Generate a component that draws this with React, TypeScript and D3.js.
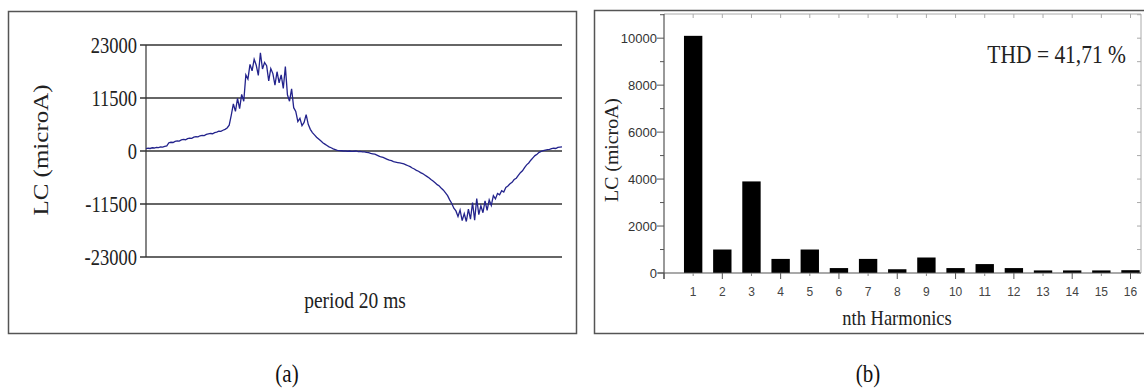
import React from "react";
import * as d3 from "d3";

// ---------- Panel (a): leakage current waveform over one 20 ms period ----------
const waveStepMs = 0.1;
const waveValues: number[] = [
  500, 600, 550, 700, 650, 800, 750, 900, 850, 1000,
  1100, 1800, 1900, 1850, 2100, 2200, 2150, 2400, 2500, 2450,
  2700, 2800, 2750, 3000, 3100, 3050, 3300, 3400, 3350, 3600,
  3700, 3800, 3750, 4000, 4100, 4300, 4250, 4500, 4700, 5000,
  5600, 7800, 10200, 8600, 11400, 9200, 12300, 10800, 16500, 15600,
  18800, 17400, 19900, 18600, 16400, 21300, 17800, 19200, 18500, 15200,
  17900, 16800, 14300, 17200, 14800, 16500, 13600, 18300, 12200, 10800,
  13500, 9400, 8600, 6400, 7100, 5500, 6200, 7900, 5800, 4700,
  4000, 3500, 3000, 2600, 2200, 1800, 1500, 1200, 900, 700,
  450, 300, 150, 100, 50, 0, 0, -50, 0, -100,
  -50, 0, -150, -100, -200, -200, -300, -350, -500, -600,
  -700, -900, -1100, -1300, -1400, -1600, -1800, -2000, -2100, -2300,
  -2400, -2500, -2600, -2700, -2800, -3000, -3200, -3400, -3700, -3900,
  -4200, -4400, -4700, -4900, -5200, -5500, -5800, -6200, -6500, -6900,
  -7300, -7600, -8100, -8500, -9100, -9700, -10600, -11400, -12400, -13000,
  -14200, -12800, -15100, -13600, -15300, -12600, -14800, -11200, -15000, -10300,
  -13800, -11900, -13400, -10800, -12900, -10600, -11800, -9700, -10400, -9200,
  -9500, -8600, -8900, -7900, -7600, -7100, -6800, -6200, -5900, -5300,
  -4700, -4300, -3600, -3000, -2600, -2000, -1500, -1000, -700, -300,
  -100, 100, 200, 300, 350, 500, 600, 550, 800, 850,
  900,
];
const waveTicks: number[] = [23000, 11500, 0, -11500, -23000];
const waveYTitle = "LC (microA)";
const waveXTitle = "period 20 ms";
const captionA = "(a)";

// ---------- Panel (b): harmonic spectrum ----------
const harmonics: number[] = [1, 2, 3, 4, 5, 6, 7, 8, 9, 10, 11, 12, 13, 14, 15, 16];
const harmonicValues: number[] = [
  10100, 1000, 3900, 600, 1000, 210, 600, 160, 660, 210, 380, 210, 110, 110, 110, 120,
];
const spectrumTicks: number[] = [0, 2000, 4000, 6000, 8000, 10000];
const spectrumYTitle = "LC (microA)";
const spectrumXTitle = "nth Harmonics";
const thdLabel = "THD = 41,71 %";
const captionB = "(b)";

const SERIF = "'Liberation Serif', 'Times New Roman', serif";
const SANS = "'Liberation Sans', Arial, sans-serif";

export default function App() {
  // ---- scales (a)
  const xA = d3.scaleLinear().domain([0, 20]).range([146, 562]);
  const yA = d3.scaleLinear().domain([-23000, 23000]).range([257, 45]);
  const line = d3
    .line<number>()
    .x((_, i) => xA(i * waveStepMs))
    .y((v) => yA(v));

  // ---- scales (b)
  const xB = d3.scaleLinear().domain([0, 16.36]).range([664, 1141]);
  const yB = d3.scaleLinear().domain([0, 11030]).range([273, 14]);
  const barW = xB(0.63) - xB(0);
  const minorY = d3.range(0, 11001, 1000);
  const topTicks = d3.range(1, 17);
  const bottomMajor = d3.range(0, 17, 2);
  const bottomMinor = d3.range(1, 17, 2);

  return (
    <svg
      width={1144}
      height={389}
      style={{ position: "absolute", left: 0, top: 0, background: "#fff" }}
    >
      <rect x={0} y={0} width={1144} height={389} fill="#fff" />

      {/* ================= Panel (a) ================= */}
      <rect x={8.5} y={11.5} width={568} height={322} fill="none" stroke="#555" strokeWidth={1.5} />
      {waveTicks.map((t) => (
        <g key={"ga" + t}>
          <line x1={140} x2={562} y1={yA(t)} y2={yA(t)} stroke="#333" strokeWidth={1.4} />
          <text
            transform={`translate(137,${yA(t)}) scale(1,1.2)`}
            textAnchor="end"
            dominantBaseline="central"
            fontFamily={SERIF}
            fontSize={18.5}
            fill="#222"
          >
            {t}
          </text>
        </g>
      ))}
      <line x1={146} x2={146} y1={yA(23000)} y2={yA(-23000)} stroke="#333" strokeWidth={1.2} />
      <path d={line(waveValues) || ""} fill="none" stroke="#23238c" strokeWidth={1.3} />
      <text
        transform={`translate(48,150) rotate(-90) scale(1.25,1)`}
        textAnchor="middle"
        fontFamily={SERIF}
        fontSize={20}
        fill="#222"
      >
        {waveYTitle}
      </text>
      <text
        transform={`translate(355,308) scale(1,1.2)`}
        textAnchor="middle"
        fontFamily={SERIF}
        fontSize={19.5}
        fill="#222"
      >
        {waveXTitle}
      </text>
      <text
        transform={`translate(287,382) scale(1,1.2)`}
        textAnchor="middle"
        fontFamily={SERIF}
        fontSize={21}
        fill="#111"
      >
        {captionA}
      </text>

      {/* ================= Panel (b) ================= */}
      <rect x={594.5} y={10.5} width={560} height={323} fill="none" stroke="#555" strokeWidth={1.5} />
      {/* frame top and right */}
      <line x1={664} x2={1141} y1={14} y2={14} stroke="#aaa" strokeWidth={1} />
      <line x1={1141} x2={1141} y1={14} y2={273} stroke="#aaa" strokeWidth={1} />
      {topTicks.map((h) => (
        <line key={"tt" + h} x1={xB(h)} x2={xB(h)} y1={14} y2={18} stroke="#aaa" />
      ))}
      {minorY.map((v) => (
        <line key={"rt" + v} x1={1141} x2={1137} y1={yB(v)} y2={yB(v)} stroke="#aaa" />
      ))}
      {/* bars */}
      {harmonics.map((h, i) => (
        <rect
          key={"b" + h}
          x={xB(h) - barW / 2}
          y={yB(harmonicValues[i])}
          width={barW}
          height={yB(0) - yB(harmonicValues[i])}
          fill="#000"
        />
      ))}
      {/* axes */}
      <line x1={664} x2={664} y1={14} y2={279} stroke="#555" strokeWidth={1.2} />
      <line x1={658} x2={1141} y1={273} y2={273} stroke="#555" strokeWidth={1.2} />
      {minorY.map((v) => (
        <line
          key={"lt" + v}
          x1={v % 2000 === 0 ? 657 : 660}
          x2={664}
          y1={yB(v)}
          y2={yB(v)}
          stroke="#555"
        />
      ))}
      {spectrumTicks.map((v) => (
        <text
          key={"yl" + v}
          x={657}
          y={yB(v)}
          textAnchor="end"
          dominantBaseline="central"
          fontFamily={SANS}
          fontSize={13}
          fill="#333"
        >
          {v}
        </text>
      ))}
      {bottomMajor.map((h) => (
        <line key={"bm" + h} x1={xB(h)} x2={xB(h)} y1={273} y2={279} stroke="#555" />
      ))}
      {bottomMinor.map((h) => (
        <line key={"bn" + h} x1={xB(h)} x2={xB(h)} y1={273} y2={276} stroke="#888" />
      ))}
      {harmonics.map((h) => (
        <text
          key={"xl" + h}
          x={xB(h)}
          y={296}
          textAnchor="middle"
          fontFamily={SANS}
          fontSize={12}
          fill="#444"
        >
          {h}
        </text>
      ))}
      <text
        transform={`translate(618,150) rotate(-90) scale(1.1,1)`}
        textAnchor="middle"
        fontFamily={SERIF}
        fontSize={18}
        fill="#222"
      >
        {spectrumYTitle}
      </text>
      <text
        transform={`translate(897,325) scale(1,1.15)`}
        textAnchor="middle"
        fontFamily={SERIF}
        fontSize={18.5}
        fill="#222"
      >
        {spectrumXTitle}
      </text>
      <text
        transform={`translate(1126,63) scale(1,1.2)`}
        textAnchor="end"
        fontFamily={SERIF}
        fontSize={21.5}
        fill="#222"
      >
        {thdLabel}
      </text>
      <text
        transform={`translate(868,382) scale(1,1.2)`}
        textAnchor="middle"
        fontFamily={SERIF}
        fontSize={21}
        fill="#111"
      >
        {captionB}
      </text>
    </svg>
  );
}
